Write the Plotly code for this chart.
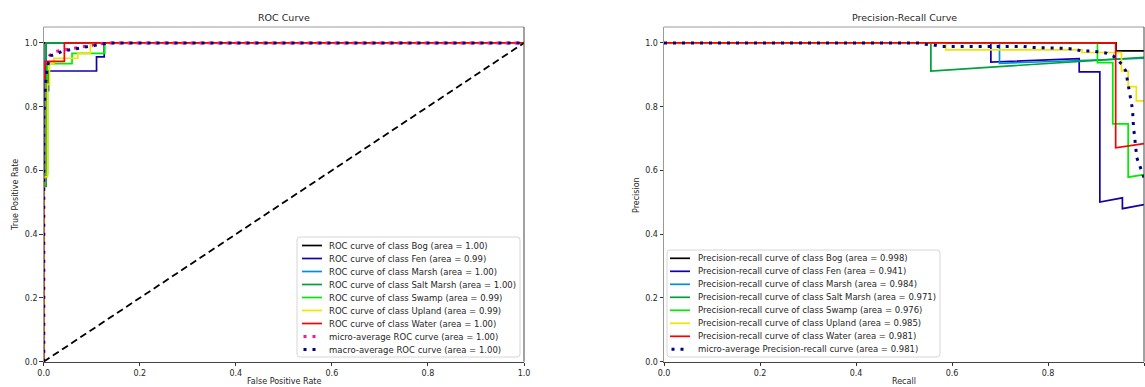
import plotly.graph_objects as go

W, H = 1145, 387

classes = ["Bog", "Fen", "Marsh", "Salt Marsh", "Swamp", "Upland", "Water"]
class_colors = ["#000000", "#1400a8", "#008fdd", "#00a03a", "#00ec00", "#f3e400", "#fa0000"]
roc_auc = ["1.00", "0.99", "1.00", "1.00", "0.99", "0.99", "1.00"]
pr_ap = ["0.998", "0.941", "0.984", "0.971", "0.976", "0.985", "0.981"]
micro_roc_auc = "1.00"
macro_roc_auc = "1.00"
micro_pr_ap = "0.981"

# ROC curves (false positive rate, true positive rate)
fpr_bog = [0, 0, 1]
tpr_bog = [0, 1, 1]
fpr_fen = [0, 0, 0.010, 0.010, 0.110, 0.110, 0.126, 0.126, 1]
tpr_fen = [0, 0.85, 0.85, 0.912, 0.912, 0.956, 0.956, 1, 1]
fpr_marsh = [0, 0, 0.005, 0.005, 1]
tpr_marsh = [0, 0.95, 0.95, 1, 1]
fpr_saltmarsh = [0, 0, 0.005, 0.005, 1]
tpr_saltmarsh = [0, 0.55, 0.55, 1, 1]
fpr_swamp = [0, 0, 0.008, 0.008, 0.059, 0.059, 0.127, 0.127, 1]
tpr_swamp = [0, 0.59, 0.59, 0.935, 0.935, 0.967, 0.967, 1, 1]
fpr_upland = [0, 0, 0.008, 0.008, 0.012, 0.012, 0.021, 0.021, 0.071, 0.071, 0.097, 0.097, 1]
tpr_upland = [0, 0.58, 0.58, 0.87, 0.87, 0.935, 0.935, 0.952, 0.952, 0.967, 0.967, 1, 1]
fpr_water = [0, 0, 0.003, 0.003, 0.043, 0.043, 1]
tpr_water = [0, 0.88, 0.88, 0.942, 0.942, 1, 1]
fpr_micro = [0, 0, 0.002, 0.005, 0.008, 0.012, 0.020, 0.030, 0.050, 0.070, 0.090, 0.110, 0.130, 1]
tpr_micro = [0, 0.85, 0.88, 0.92, 0.95, 0.96, 0.97, 0.975, 0.98, 0.985, 0.99, 0.995, 1, 1]
fpr_macro = [0, 0, 0.003, 0.006, 0.010, 0.015, 0.025, 0.040, 0.060, 0.080, 0.100, 0.120, 0.135, 1]
tpr_macro = [0, 0.76, 0.85, 0.91, 0.94, 0.96, 0.965, 0.975, 0.98, 0.985, 0.99, 0.995, 1, 1]
diag_x = [0, 1]
diag_y = [0, 1]

# Precision-recall curves (recall, precision)
rec_bog = [0, 0.942, 0.942, 1.0]
prec_bog = [1, 1, 0.975, 0.975]
rec_fen = [0, 0.681, 0.681, 0.865, 0.865, 0.908, 0.908, 0.955, 0.955, 1.0]
prec_fen = [1, 1, 0.940, 0.951, 0.909, 0.909, 0.501, 0.514, 0.480, 0.493]
rec_marsh = [0, 0.699, 0.699, 1.0]
prec_marsh = [1, 1, 0.936, 0.952]
rec_saltmarsh = [0, 0.556, 0.556, 1.0]
prec_saltmarsh = [1, 1, 0.912, 0.955]
rec_swamp = [0, 0.903, 0.903, 0.935, 0.935, 0.967, 0.967, 1.0]
prec_swamp = [1, 1, 0.938, 0.938, 0.746, 0.746, 0.579, 0.587]
rec_upland = [0, 0.587, 0.587, 0.871, 0.871, 0.953, 0.953, 0.967, 0.967, 0.984, 0.984, 1.0]
prec_upland = [1, 1, 0.978, 0.978, 0.970, 0.970, 0.912, 0.912, 0.863, 0.863, 0.818, 0.818]
rec_water = [0, 0.941, 0.941, 1.0]
prec_water = [1, 1, 0.671, 0.684]
rec_micro = [0, 0.533, 0.545, 0.561, 0.578, 0.749, 0.765, 0.800, 0.839, 0.856, 0.870, 0.889,
             0.905, 0.922, 0.936, 0.945, 0.954, 0.962, 0.967, 0.971, 0.976, 0.978, 0.981,
             0.985, 0.994, 1.0]
prec_micro = [1, 1, 0.996, 0.994, 0.989, 0.989, 0.986, 0.985, 0.983, 0.980, 0.975, 0.975,
              0.972, 0.968, 0.959, 0.947, 0.933, 0.912, 0.870, 0.844, 0.792, 0.739, 0.687,
              0.640, 0.603, 0.577]

tick_vals = [0, 0.2, 0.4, 0.6, 0.8, 1.0]
tick_text = ["0.0", "0.2", "0.4", "0.6", "0.8", "1.0"]

roc_x = [fpr_bog, fpr_fen, fpr_marsh, fpr_saltmarsh, fpr_swamp, fpr_upland, fpr_water]
roc_y = [tpr_bog, tpr_fen, tpr_marsh, tpr_saltmarsh, tpr_swamp, tpr_upland, tpr_water]
pr_x = [rec_bog, rec_fen, rec_marsh, rec_saltmarsh, rec_swamp, rec_upland, rec_water]
pr_y = [prec_bog, prec_fen, prec_marsh, prec_saltmarsh, prec_swamp, prec_upland, prec_water]

FONT = "DejaVu Sans"
TXT = "#262626"
LW = 1.7
DOT = "3px,6px"

fig = go.Figure()

for i, c in enumerate(classes):
    fig.add_trace(go.Scatter(x=roc_x[i], y=roc_y[i], mode="lines",
                             line=dict(color=class_colors[i], width=LW),
                             xaxis="x", yaxis="y", showlegend=False, hoverinfo="skip"))
fig.add_trace(go.Scatter(x=fpr_micro, y=tpr_micro, mode="lines",
                         line=dict(color="deeppink", width=3, dash=DOT),
                         xaxis="x", yaxis="y", showlegend=False))
fig.add_trace(go.Scatter(x=fpr_macro, y=tpr_macro, mode="lines",
                         line=dict(color="navy", width=3, dash=DOT),
                         xaxis="x", yaxis="y", showlegend=False))
fig.add_trace(go.Scatter(x=diag_x, y=diag_y, mode="lines",
                         line=dict(color="black", width=1.8, dash="7px,4px"),
                         xaxis="x", yaxis="y", showlegend=False))

for i, c in enumerate(classes):
    fig.add_trace(go.Scatter(x=pr_x[i], y=pr_y[i], mode="lines",
                             line=dict(color=class_colors[i], width=LW),
                             xaxis="x2", yaxis="y2", showlegend=False))
fig.add_trace(go.Scatter(x=rec_micro, y=prec_micro, mode="lines",
                         line=dict(color="navy", width=3, dash=DOT),
                         xaxis="x2", yaxis="y2", showlegend=False))

# pixel layout
L1, R1 = 43.7, 524.0
L2, R2 = 664.0, 1144.0
TOP, BOT = 27.0, 361.7

def px(x):
    return x / W

def py(y):
    return 1 - y / H

axis_common = dict(range=[0, 1], tickvals=tick_vals, ticktext=tick_text, ticks="outside",
                   ticklen=3.5, tickwidth=0.8, tickcolor="#333", showgrid=False, zeroline=False,
                   showline=True, linewidth=1, linecolor="#444",
                   tickfont=dict(family=FONT, size=8, color=TXT), automargin=False, fixedrange=True)
yaxis_common = dict(axis_common)
yaxis_common.update(range=[0, 1.05], linecolor="#9a9a9a")

fig.update_layout(
    width=W, height=H,
    margin=dict(l=0, r=0, t=0, b=0),
    paper_bgcolor="white", plot_bgcolor="white",
    xaxis=dict(axis_common, domain=[px(L1), px(R1)], anchor="y"),
    yaxis=dict(yaxis_common, domain=[py(BOT), py(TOP)], anchor="x"),
    xaxis2=dict(axis_common, domain=[px(L2), px(R2)], anchor="y2"),
    yaxis2=dict(yaxis_common, domain=[py(BOT), py(TOP)], anchor="x2"),
    showlegend=False,
)

shapes = []
annotations = []
# top and right spines
for xr, yr in (("x", "y"), ("x2", "y2")):
    shapes.append(dict(type="line", xref=xr + " domain", yref=yr + " domain", x0=0, x1=1, y0=1, y1=1,
                       line=dict(color="#9a9a9a", width=1)))
    shapes.append(dict(type="line", xref=xr + " domain", yref=yr + " domain", x0=1, x1=1, y0=0, y1=1,
                       line=dict(color="#444", width=1)))

# titles and axis labels
def text(x, y, s, size=8, angle=0, anchor="center"):
    annotations.append(dict(x=px(x), y=py(y), xref="paper", yref="paper", text=s, showarrow=False,
                            xanchor=anchor, yanchor="middle", textangle=angle,
                            font=dict(family=FONT, size=size, color=TXT)))

text((L1 + R1) / 2, 18, "ROC Curve", size=9.5)
text((L2 + R2) / 2, 18, "Precision-Recall Curve", size=9.5)
text((L1 + R1) / 2, 381, "False Positive Rate")
text(15, 195, "True Positive Rate", angle=-90)
text((L2 + R2) / 2, 381, "Recall")
text(636, 195, "Precision", angle=-90)

# manual legends (compact matplotlib-style spacing)
def legend_box(x0, x1, y0, y1):
    r = 3
    path = (f"M {px(x0 + r)},{py(y0)} L {px(x1 - r)},{py(y0)} Q {px(x1)},{py(y0)} {px(x1)},{py(y0 + r)} "
            f"L {px(x1)},{py(y1 - r)} Q {px(x1)},{py(y1)} {px(x1 - r)},{py(y1)} "
            f"L {px(x0 + r)},{py(y1)} Q {px(x0)},{py(y1)} {px(x0)},{py(y1 - r)} "
            f"L {px(x0)},{py(y0 + r)} Q {px(x0)},{py(y0)} {px(x0 + r)},{py(y0)} Z")
    shapes.append(dict(type="path", xref="paper", yref="paper", path=path,
                       fillcolor="rgba(255,255,255,0.8)", line=dict(color="#d6d6d6", width=1)))

def legend_entries(entries, y_first, xl0, xl1, xt, step=13):
    for k, (label, color, dotted) in enumerate(entries):
        y = y_first + step * k
        if dotted:
            shapes.append(dict(type="line", xref="paper", yref="paper", x0=px(xl0 + 1.5), x1=px(xl0 + 13.5),
                               y0=py(y), y1=py(y), line=dict(color=color, width=3, dash="3px,6px")))
        else:
            shapes.append(dict(type="line", xref="paper", yref="paper", x0=px(xl0), x1=px(xl1),
                               y0=py(y), y1=py(y), line=dict(color=color, width=LW)))
        text(xt, y, label, size=8.5, anchor="left")

roc_entries = [(f"ROC curve of class {c} (area = {a})", class_colors[i], False)
               for i, (c, a) in enumerate(zip(classes, roc_auc))]
roc_entries.append((f"micro-average ROC curve (area = {micro_roc_auc})", "deeppink", True))
roc_entries.append((f"macro-average ROC curve (area = {macro_roc_auc})", "navy", True))
legend_box(297, 520, 237, 357)
legend_entries(roc_entries, 245.5, 302, 322, 327)

pr_entries = [(f"Precision-recall curve of class {c} (area = {a})", class_colors[i], False)
              for i, (c, a) in enumerate(zip(classes, pr_ap))]
pr_entries.append((f"micro-average Precision-recall curve (area = {micro_pr_ap})", "navy", True))
legend_box(667, 940, 250, 357)
legend_entries(pr_entries, 258.3, 670, 690, 696)

fig.update_layout(shapes=shapes, annotations=annotations)
fig.write_html("out.html")
